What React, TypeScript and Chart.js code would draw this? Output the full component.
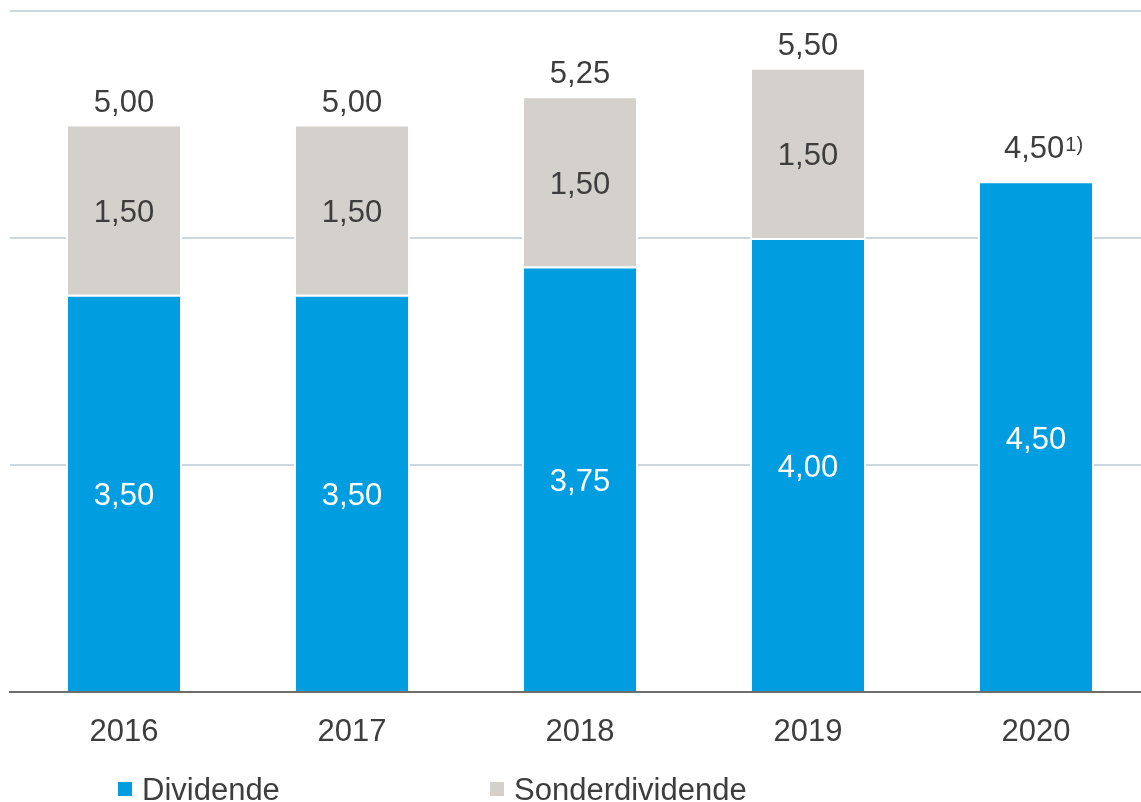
import React, { useEffect, useRef } from 'react';
import { Chart, registerables } from 'chart.js';

Chart.register(...registerables);

const categories = ['2016', '2017', '2018', '2019', '2020'];
const dividende = [3.5, 3.5, 3.75, 4.0, 4.5];
const sonderdividende: (number | null)[] = [1.5, 1.5, 1.5, 1.5, null];
const footnotes = ['', '', '', '', '1)'];
const seriesNames = ['Dividende', 'Sonderdividende'];
const yMin = 0;
const yMax = 6;
const yStep = 2;

const BLUE = '#009EE0';
const GRAY = '#D4D0CB';
const TEXT = '#3D3D3D';
const GRID = '#CDD7E0';
const AXIS = '#6E6E6E';
const FONT = '"Liberation Sans", Arial, sans-serif';

const fmt = (v: number) => v.toFixed(2).replace('.', ',');

const labelPlugin = {
  id: 'valueLabels',
  afterDatasetsDraw(chart: any) {
    const ctx = chart.ctx;
    ctx.save();
    ctx.font = `31px ${FONT}`;
    ctx.textAlign = 'center';
    ctx.textBaseline = 'middle';
    chart.data.datasets.forEach((ds: any, di: number) => {
      const meta = chart.getDatasetMeta(di);
      meta.data.forEach((bar: any, i: number) => {
        const v = ds.data[i];
        if (v == null || v === 0) return;
        const { x, y, base } = bar.getProps(['x', 'y', 'base'], true);
        ctx.fillStyle = di === 0 ? '#FFFFFF' : TEXT;
        ctx.fillText(fmt(v), x, (y + base) / 2 + 4);
      });
    });
    // totals above bars
    const yScale = chart.scales.y;
    const meta0 = chart.getDatasetMeta(0);
    categories.forEach((_, i) => {
      const total = dividende[i] + (sonderdividende[i] ?? 0);
      const top = yScale.getPixelForValue(total);
      const x = meta0.data[i].x;
      const note = footnotes[i];
      ctx.fillStyle = TEXT;
      ctx.textBaseline = 'alphabetic';
      ctx.font = `31px ${FONT}`;
      const main = fmt(total);
      if (!note) {
        ctx.textAlign = 'center';
        ctx.fillText(main, x, top - 13);
      } else {
        const mw = ctx.measureText(main).width;
        ctx.font = `20px ${FONT}`;
        const sw = ctx.measureText(note).width;
        const left = x - (mw + sw) / 2 + 7;
        const baseY = top - 23;
        ctx.textAlign = 'left';
        ctx.font = `31px ${FONT}`;
        ctx.fillText(main, left, baseY);
        ctx.font = `20px ${FONT}`;
        ctx.fillText(note, left + mw + 1, baseY - 7);
      }
    });
    ctx.restore();
  },
  afterDraw(chart: any) {
    const ctx = chart.ctx;
    ctx.save();
    const items = [
      { x: 118, color: BLUE, label: seriesNames[0] },
      { x: 490, color: GRAY, label: seriesNames[1] },
    ];
    ctx.font = `31px ${FONT}`;
    ctx.textAlign = 'left';
    ctx.textBaseline = 'alphabetic';
    items.forEach((it) => {
      ctx.fillStyle = it.color;
      ctx.fillRect(it.x, 782, 14, 14);
      ctx.fillStyle = TEXT;
      ctx.fillText(it.label, it.x + 24, 800);
    });
    ctx.restore();
  },
};

export default function App() {
  const ref = useRef<HTMLCanvasElement>(null);
  useEffect(() => {
    if (!ref.current) return;
    const chart = new Chart(ref.current, {
      type: 'bar',
      data: {
        labels: categories,
        datasets: [
          {
            label: seriesNames[0],
            data: dividende,
            backgroundColor: BLUE,
            borderColor: '#FFFFFF',
            borderWidth: 2,
            barPercentage: 0.509,
            categoryPercentage: 1,
          },
          {
            label: seriesNames[1],
            data: sonderdividende,
            backgroundColor: GRAY,
            borderColor: '#FFFFFF',
            borderWidth: 2,
            barPercentage: 0.509,
            categoryPercentage: 1,
          },
        ],
      },
      options: {
        responsive: false,
        animation: false,
        devicePixelRatio: 1,
        layout: { padding: { left: 10, right: 10, top: 11, bottom: 0 } },
        plugins: {
          legend: { display: false },
          tooltip: { enabled: false },
        },
        scales: {
          x: {
            stacked: true,
            grid: { display: false, drawTicks: false },
            border: { display: true, color: AXIS, width: 2 },
            ticks: {
              color: TEXT,
              font: { family: FONT, size: 31 },
              padding: 22,
            },
            afterFit: (scale: any) => {
              scale.height = 110;
            },
          },
          y: {
            stacked: true,
            min: yMin,
            max: yMax,
            ticks: { display: false, stepSize: yStep },
            grid: {
              drawTicks: false,
              lineWidth: 2,
              color: (c: any) => (c.tick && c.tick.value === 0 ? 'rgba(0,0,0,0)' : GRID),
            },
            border: { display: false },
          },
        },
      },
      plugins: [labelPlugin],
    });
    return () => chart.destroy();
  }, []);

  return (
    <div style={{ position: 'fixed', left: 0, top: 0, width: 1141, height: 802, overflow: 'hidden', background: '#fff' }}>
      <canvas ref={ref} width={1160} height={802} style={{ position: 'absolute', left: 0, top: 0 }} />
    </div>
  );
}
